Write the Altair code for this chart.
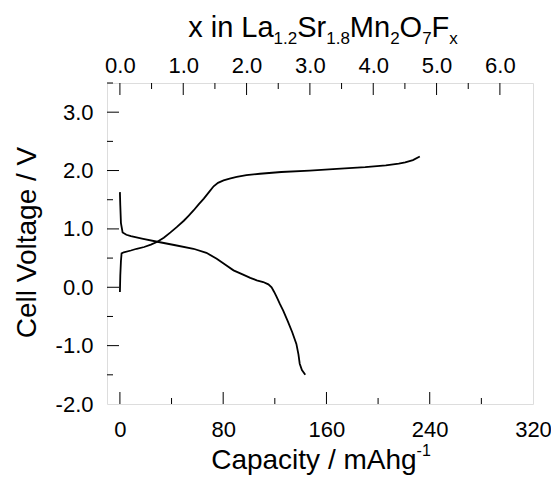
import altair as alt
import pandas as pd

# ---- data ----
discharge_cap = [0, 0.3, 0.8, 2.1, 5, 8.5, 18, 29, 43, 57, 67, 75, 82, 88, 95, 101,
                 106, 111, 115, 117.5, 119.5, 121.5, 124, 126.5, 130, 133.5, 136.7,
                 138.3, 139.3, 141, 143.6]
discharge_v = [1.63, 1.40, 1.10, 0.94, 0.90, 0.875, 0.83, 0.78, 0.72, 0.66, 0.59,
               0.49, 0.38, 0.29, 0.22, 0.16, 0.12, 0.09, 0.05, 0.0, -0.08, -0.17,
               -0.29, -0.40, -0.58, -0.77, -0.97, -1.15, -1.31, -1.42, -1.50]

charge_cap = [0, 0.3, 0.8, 1.3, 3, 8.5, 13, 18.8, 24, 29, 34, 39.2, 44, 49.5, 53,
              57.2, 61, 65, 69, 72.6, 76, 80.3, 85, 90.5, 98, 108.5, 125, 147, 168,
              190, 206, 216, 221, 227, 232.3]
charge_v = [-0.08, 0.20, 0.45, 0.58, 0.60, 0.63, 0.66, 0.69, 0.73, 0.78, 0.85, 0.94,
            1.03, 1.14, 1.22, 1.32, 1.42, 1.52, 1.63, 1.73, 1.79, 1.83, 1.86, 1.89,
            1.92, 1.945, 1.975, 2.0, 2.03, 2.06, 2.09, 2.12, 2.14, 2.18, 2.24]

cap_labels = [0, 80, 160, 240, 320]
cap_major = [0, 80, 160, 240]
cap_minor = [40, 120, 200, 280]
v_labels = [-2, -1, 0, 1, 2, 3]
v_major = [-1, 0, 1, 2, 3]
v_minor = [-1.5, -0.5, 0.5, 1.5, 2.5, 3.5]
x_labels = [0, 1, 2, 3, 4, 5, 6]
x_minor = [0.5, 1.5, 2.5, 3.5, 4.5, 5.5]
cap_per_x = 49.06  # mAh/g per F in La1.2Sr1.8Mn2O7

# ---- layout ----
W, H = 426, 321
FONT = "Liberation Sans"
CAP_DOM = [-10, 320]
V_DOM = [-2, 3.5]
X_DOM = [CAP_DOM[0] / cap_per_x, CAP_DOM[1] / cap_per_x]

rows = []
for i, (c, v) in enumerate(zip(discharge_cap, discharge_v)):
    rows.append({"cap": c, "v": v, "series": "discharge", "order": i})
for i, (c, v) in enumerate(zip(charge_cap, charge_v)):
    rows.append({"cap": c, "v": v, "series": "charge", "order": i})
df = pd.DataFrame(rows)

xs = alt.Scale(domain=CAP_DOM, nice=False, zero=False)
ys = alt.Scale(domain=V_DOM, nice=False, zero=False)
tops = alt.Scale(domain=X_DOM, nice=False, zero=False)

xaxis = alt.Axis(values=cap_labels, format="d", ticks=False, tickSize=0, domain=False,
                 grid=False, labelFontSize=22, labelFont=FONT, labelColor="black",
                 labelPadding=15, labelFlush=False, title=None)
yaxis = alt.Axis(values=v_labels, ticks=False, tickSize=0, domain=False, grid=False,
                 labelFontSize=22, labelFont=FONT, labelColor="black", labelPadding=14,
                 labelFlush=False, title=None,
                 labelExpr="(datum.value < 0 ? '-' : '') + format(abs(datum.value), '.1f')")
topaxis = alt.Axis(orient="top", values=x_labels, format=".1f", ticks=False, tickSize=0,
                   domain=False, grid=False, labelFontSize=22, labelFont=FONT,
                   labelColor="black", labelPadding=6, labelFlush=False, title=None)

lines = alt.Chart(df).mark_line(color="black", strokeWidth=1.8).encode(
    x=alt.X("cap:Q", scale=xs, axis=xaxis),
    y=alt.Y("v:Q", scale=ys, axis=yaxis),
    detail="series:N",
    order="order:Q",
)

def xticks(vals, length):
    return alt.Chart(pd.DataFrame({"cap": vals})).mark_rule(color="black", strokeWidth=1).encode(
        x=alt.X("cap:Q", scale=xs, axis=xaxis), y=alt.value(H), y2=alt.value(H - length))

def yticks(vals, length):
    return alt.Chart(pd.DataFrame({"v": vals})).mark_rule(color="black", strokeWidth=1).encode(
        y=alt.Y("v:Q", scale=ys, axis=yaxis), x=alt.value(0), x2=alt.value(length))

def topticks(vals, length):
    return alt.Chart(pd.DataFrame({"xf": vals})).mark_rule(color="black", strokeWidth=1).encode(
        x=alt.X("xf:Q", scale=tops, axis=topaxis), y=alt.value(0), y2=alt.value(length))

AW = {" ": 278, "x": 500, "i": 222, "n": 556, "L": 556, "a": 556, "1": 556, ".": 278,
      "2": 556, "S": 667, "r": 333, "8": 556, "M": 833, "O": 778, "7": 556, "F": 611,
      "C": 722, "p": 556, "c": 500, "t": 278, "y": 500, "/": 278, "m": 833, "A": 667,
      "h": 556, "g": 556, "-": 333}

def width(s, size):
    return sum(AW.get(ch, 556) for ch in s) * size / 1000.0

def piece(s, x, y, size, angle=0, align="left"):
    return alt.Chart(pd.DataFrame({"t": [s]})).mark_text(
        font=FONT, fontSize=size, color="black", align=align, baseline="alphabetic",
        angle=angle).encode(x=alt.value(x), y=alt.value(y), text="t:N")

# top title: x in La1.2Sr1.8Mn2O7Fx
MAIN, SUB = 29, 17
top_parts = [("x in La", False), ("1.2", True), ("Sr", False), ("1.8", True), ("Mn", False),
             ("2", True), ("O", False), ("7", True), ("F", False), ("x", True)]
total = sum(width(s, SUB if sub else MAIN) for s, sub in top_parts)
cx = 216 - total / 2
title_layers = []
for s, sub in top_parts:
    size = SUB if sub else MAIN
    title_layers.append(piece(s, cx, -39 if sub else -46, size))
    cx += width(s, size)

# bottom title: Capacity / mAhg-1
BT = 28
btxt, bsup = "Capacity / mAhg", "-1"
btotal = width(btxt, BT) + width(bsup, 16)
bx = 214 - btotal / 2
title_layers.append(piece(btxt, bx, 386, BT))
title_layers.append(piece(bsup, bx + width(btxt, BT), 373, 16))

# left title
title_layers.append(piece("Cell Voltage / V", -71, 159.5, 28, angle=270, align="center"))

main = alt.layer(lines, xticks(cap_major, 12), xticks(cap_minor, 6),
                 yticks(v_major, 12), yticks(v_minor, 6), *title_layers)
top = alt.layer(topticks(x_labels, 12), topticks(x_minor, 6))

chart = alt.layer(main, top).resolve_scale(x="independent").properties(
    width=W, height=H,
    autosize=alt.AutoSizeParams(type="none"),
    padding={"left": 99, "top": 75, "right": 18, "bottom": 72},
).configure_view(stroke="black", strokeWidth=1).configure(background="white")

chart.save("out.html", embed_options={"renderer": "svg", "actions": False})
